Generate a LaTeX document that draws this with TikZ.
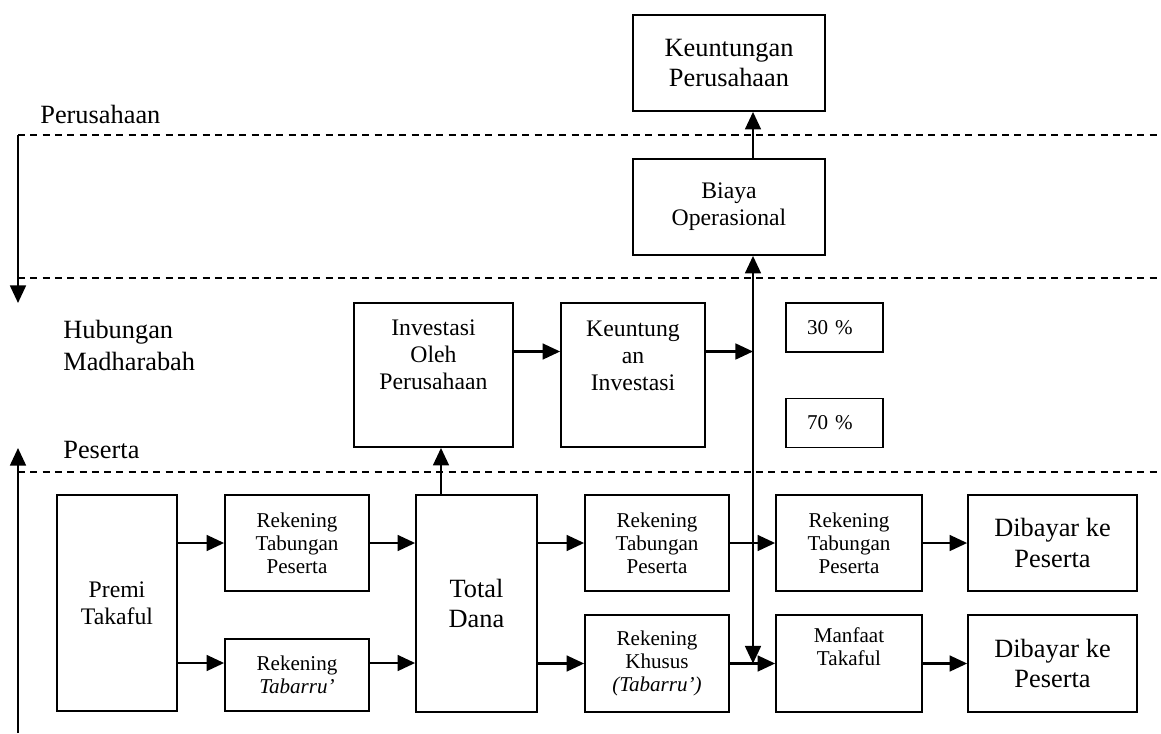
\documentclass[tikz,border=0pt]{standalone}
\usepackage{fontspec}
\setmainfont{Liberation Serif}
\usepackage{tikz}
\usetikzlibrary{arrows.meta}

\begin{document}
\begin{tikzpicture}[
	box/.style={draw, line width=1pt, inner sep=0pt, align=center},
	arr/.style={line width=1.3pt, -{Triangle[length=10pt,width=9pt]}},
	arrr/.style={line width=1.3pt, {Triangle[length=10pt,width=9pt]}-{Triangle[length=10pt,width=9pt]}},
	sep/.style={line width=0.8pt, dash pattern=on 4pt off 3pt},
	big/.style={font=\fontsize{15}{17.6}\selectfont},
	mid/.style={font=\fontsize{13.5}{15.4}\selectfont},
	small/.style={font=\fontsize{12}{13}\selectfont}]
    		\useasboundingbox (0,0) rectangle (23.22,-14.66);
    		\coordinate (s1) at (0.36,-2.7);
    		\coordinate (s2) at (0.36,-5.56);
    		\coordinate (s3) at (0.36,-9.44);
    		\coordinate (e) at (23.22,0);
    		\coordinate (down) at (0.36,-6.06);
    		\coordinate (up) at (0.36,-8.96);
    		\coordinate (bot) at (0.36,-14.66);
    		\draw[sep] (s1) -- (s1 -| e);
    		\draw[sep] (s2) -- (s2 -| e);
    		\draw[sep] (s3) -- (s3 -| e);
    		\draw[arr] (s1) -- (down);
    		\draw[arr] (bot) -- (up);
    		\node[big, anchor=base west, inner sep=0pt] (lp) at (0.8,-2.46) {Perusahaan};
    		\node[big, anchor=base west, inner sep=0pt] (lh) at (1.26,-6.76) {Hubungan};
    		\node[big, anchor=base west, inner sep=0pt] (lm) at (1.26,-7.4) {Madharabah};
    		\node[big, anchor=base west, inner sep=0pt] (ls) at (1.26,-9.16) {Peserta};
    		\node[box, big, minimum width=3.84cm, minimum height=1.92cm] (kp) at (14.58,-1.26) {Keuntungan\\Perusahaan};
    		\node[box, mid, minimum width=3.84cm, minimum height=1.92cm] (bo) at (14.58,-4.14) {Biaya\\Operasional};
    		\node[box, minimum width=3.18cm, minimum height=2.88cm] (inv) at (8.67,-7.5) {};
    		\node[mid, anchor=north, align=center, inner sep=0pt] (invt) at ([yshift=-0.35cm]inv.north) {Investasi\\Oleh\\Perusahaan};
    		\node[box, minimum width=2.88cm, minimum height=2.88cm] (ki) at (12.66,-7.5) {};
    		\node[mid, anchor=north, align=center, inner sep=0pt] (kit) at ([yshift=-0.37cm]ki.north) {Keuntung\\an\\Investasi};
    		\node[box, small, align=left, text width=1.1cm, minimum width=1.94cm, minimum height=0.98cm] (p30) at (16.69,-6.55) {30 \%};
    		\node[box, small, align=left, text width=1.1cm, minimum width=1.94cm, minimum height=0.98cm] (p70) at (16.69,-8.46) {70 \%};
    		\node[box, mid, minimum width=2.4cm, minimum height=4.32cm] (premi) at (2.34,-12.06) {Premi\\Takaful};
    		\node[box, small, minimum width=2.88cm, minimum height=1.92cm] (rt1) at (5.94,-10.86) {Rekening\\Tabungan\\Peserta};
    		\node[box, small, minimum width=2.88cm, minimum height=1.44cm] (rtb) at (5.94,-13.5) {Rekening\\\textit{Tabarru’}};
    		\node[box, big, minimum width=2.42cm, minimum height=4.34cm] (dana) at (9.53,-12.07) {Total\\Dana};
    		\node[box, small, minimum width=2.88cm, minimum height=1.92cm] (rt2) at (13.14,-10.86) {Rekening\\Tabungan\\Peserta};
    		\node[box, small, minimum width=2.88cm, minimum height=1.94cm] (rk) at (13.14,-13.27) {Rekening\\Khusus\\\textit{(Tabarru’)}};
    		\node[box, small, minimum width=2.92cm, minimum height=1.92cm] (rt3) at (16.98,-10.86) {Rekening\\Tabungan\\Peserta};
    		\node[box, minimum width=2.92cm, minimum height=1.94cm] (mt) at (16.98,-13.27) {};
    		\node[small, anchor=north, align=center, inner sep=0pt] (mtt) at ([yshift=-0.26cm]mt.north) {Manfaat\\Takaful};
    		\node[box, big, minimum width=3.38cm, minimum height=1.92cm] (db1) at (21.05,-10.86) {Dibayar ke\\Peserta};
    		\node[box, big, minimum width=3.38cm, minimum height=1.94cm] (db2) at (21.05,-13.27) {Dibayar ke\\Peserta};
    		\coordinate (vx) at (15.06,0);
    		\coordinate (dx) at (8.82,0);
    		\coordinate (ky) at (0,-7.03);
    		\coordinate (rb) at (0,-13.26);
    		\draw[arr] (bo.north -| vx) -- (kp.south -| vx);
    		\draw[arrr] (bo.south -| vx) -- (vx |- mt.west);
    		\draw[arr] (dana.north -| dx) -- (inv.south -| dx);
    		\draw[arr] (inv.east |- ky) -- (ki.west |- ky);
    		\draw[arr] (ki.east |- ky) -- (vx |- ky);
    		\draw[arr] (premi.east |- rt1.west) -- (rt1.west);
    		\draw[arr] (rt1.east) -- (dana.west |- rt1.east);
    		\draw[arr] (premi.east |- rb) -- (rtb.west |- rb);
    		\draw[arr] (rtb.east |- rb) -- (dana.west |- rb);
    		\draw[arr] (dana.east |- rt2.west) -- (rt2.west);
    		\draw[arr] (dana.east |- rk.west) -- (rk.west);
    		\draw[arr] (rt2.east) -- (rt3.west);
    		\draw[arr] (rk.east) -- (mt.west);
    		\draw[arr] (rt3.east) -- (db1.west);
    		\draw[arr] (mt.east) -- (db2.west);
\end{tikzpicture}
\end{document}
